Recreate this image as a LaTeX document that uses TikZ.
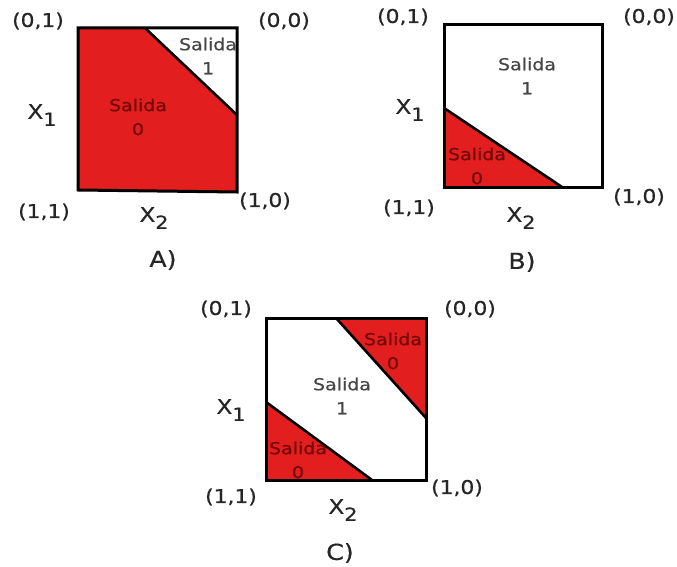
\documentclass[tikz,border=0pt]{standalone}
\usepackage{fontspec}
\setmainfont[FakeStretch=1.15,FakeBold=0.6]{DejaVu Sans}
\definecolor{salred}{RGB}{226,30,30}
\definecolor{darkred}{RGB}{115,8,8}
\definecolor{txtgray}{RGB}{70,70,70}

\begin{document}
\begin{tikzpicture}[x=1pt,y=-1pt,
  region/.style={fill=salred},
  frame/.style={draw=black,line width=3pt},
  cut/.style={draw=black,line width=2.6pt},
  corner/.style={font=\fontsize{19}{19}\selectfont,text=black!85},
  axis/.style={font=\fontsize{20}{20}\selectfont,text=black!85},
  out0/.style={align=center,font=\fontsize{16.5}{24}\selectfont,text=darkred},
  out1/.style={align=center,font=\fontsize{16.5}{24}\selectfont,text=txtgray},
  caplbl/.style={font=\fontsize{22}{22}\selectfont,text=black!85}]
\useasboundingbox (0,0) rectangle (677,567);
% A)
\begin{scope}[shift={(78,28)}]
  \fill[region] (0,0) -- (67,0) -- (159,87) -- (159,164) -- (0,162) -- cycle;
  \draw[frame] (0,0) -- (159,0) -- (159,164) -- (0,162) -- cycle;
  \draw[cut] (67,0) -- (159,87);
  \node[out1] (as1) at (130,28) {Salida\\1};
  \node[out0] (as0) at (60,89) {Salida\\0};
  \node[corner] (a01) at (-40,-7) {(0,1)};
  \node[corner] (a00) at (206,-7) {(0,0)};
  \node[corner] (a11) at (-34,184) {(1,1)};
  \node[corner] (a10) at (187,173) {(1,0)};
  \node[axis] (ax1) at (-36,87) {X\raisebox{-7pt}{\fontsize{18}{18}\selectfont 1}};
  \node[axis] (ax2) at (76,190) {X\raisebox{-7pt}{\fontsize{18}{18}\selectfont 2}};
  \node[caplbl] (acap) at (85,232) {A)};
\end{scope}
% B)
\begin{scope}[shift={(444,25)}]
  \fill[region] (0,83) -- (118,162) -- (0,162) -- cycle;
  \draw[frame] (0,0) rectangle (158,162);
  \draw[cut] (0,83) -- (118,162);
  \node[out1] (bs1) at (83,51) {Salida\\1};
  \node[out0] (bs0) at (33,141) {Salida\\0};
  \node[corner] (b01) at (-41,-8) {(0,1)};
  \node[corner] (b00) at (205,-8) {(0,0)};
  \node[corner] (b11) at (-35,183) {(1,1)};
  \node[corner] (b10) at (195,172) {(1,0)};
  \node[axis] (bx1) at (-34,85) {X\raisebox{-7pt}{\fontsize{18}{18}\selectfont 1}};
  \node[axis] (bx2) at (77,193) {X\raisebox{-7pt}{\fontsize{18}{18}\selectfont 2}};
  \node[caplbl] (bcap) at (78,237) {B)};
\end{scope}
% C)
\begin{scope}[shift={(266,318)}]
  \fill[region] (70,0) -- (160,0) -- (160,100) -- cycle;
  \fill[region] (0,84) -- (106,162) -- (0,162) -- cycle;
  \draw[frame] (0,0) rectangle (160,162);
  \draw[cut] (70,0) -- (160,100);
  \draw[cut] (0,84) -- (106,162);
  \node[out1] (cs1) at (76,78) {Salida\\1};
  \node[out0] (cs0a) at (127,33) {Salida\\0};
  \node[out0] (cs0b) at (32,142) {Salida\\0};
  \node[corner] (c01) at (-40,-9) {(0,1)};
  \node[corner] (c00) at (204,-9) {(0,0)};
  \node[corner] (c11) at (-35,179) {(1,1)};
  \node[corner] (c10) at (191,170) {(1,0)};
  \node[axis] (cx1) at (-35,92) {X\raisebox{-7pt}{\fontsize{18}{18}\selectfont 1}};
  \node[axis] (cx2) at (77,192) {X\raisebox{-7pt}{\fontsize{18}{18}\selectfont 2}};
  \node[caplbl] (ccap) at (74,235) {C)};
\end{scope}
\end{tikzpicture}
\end{document}
